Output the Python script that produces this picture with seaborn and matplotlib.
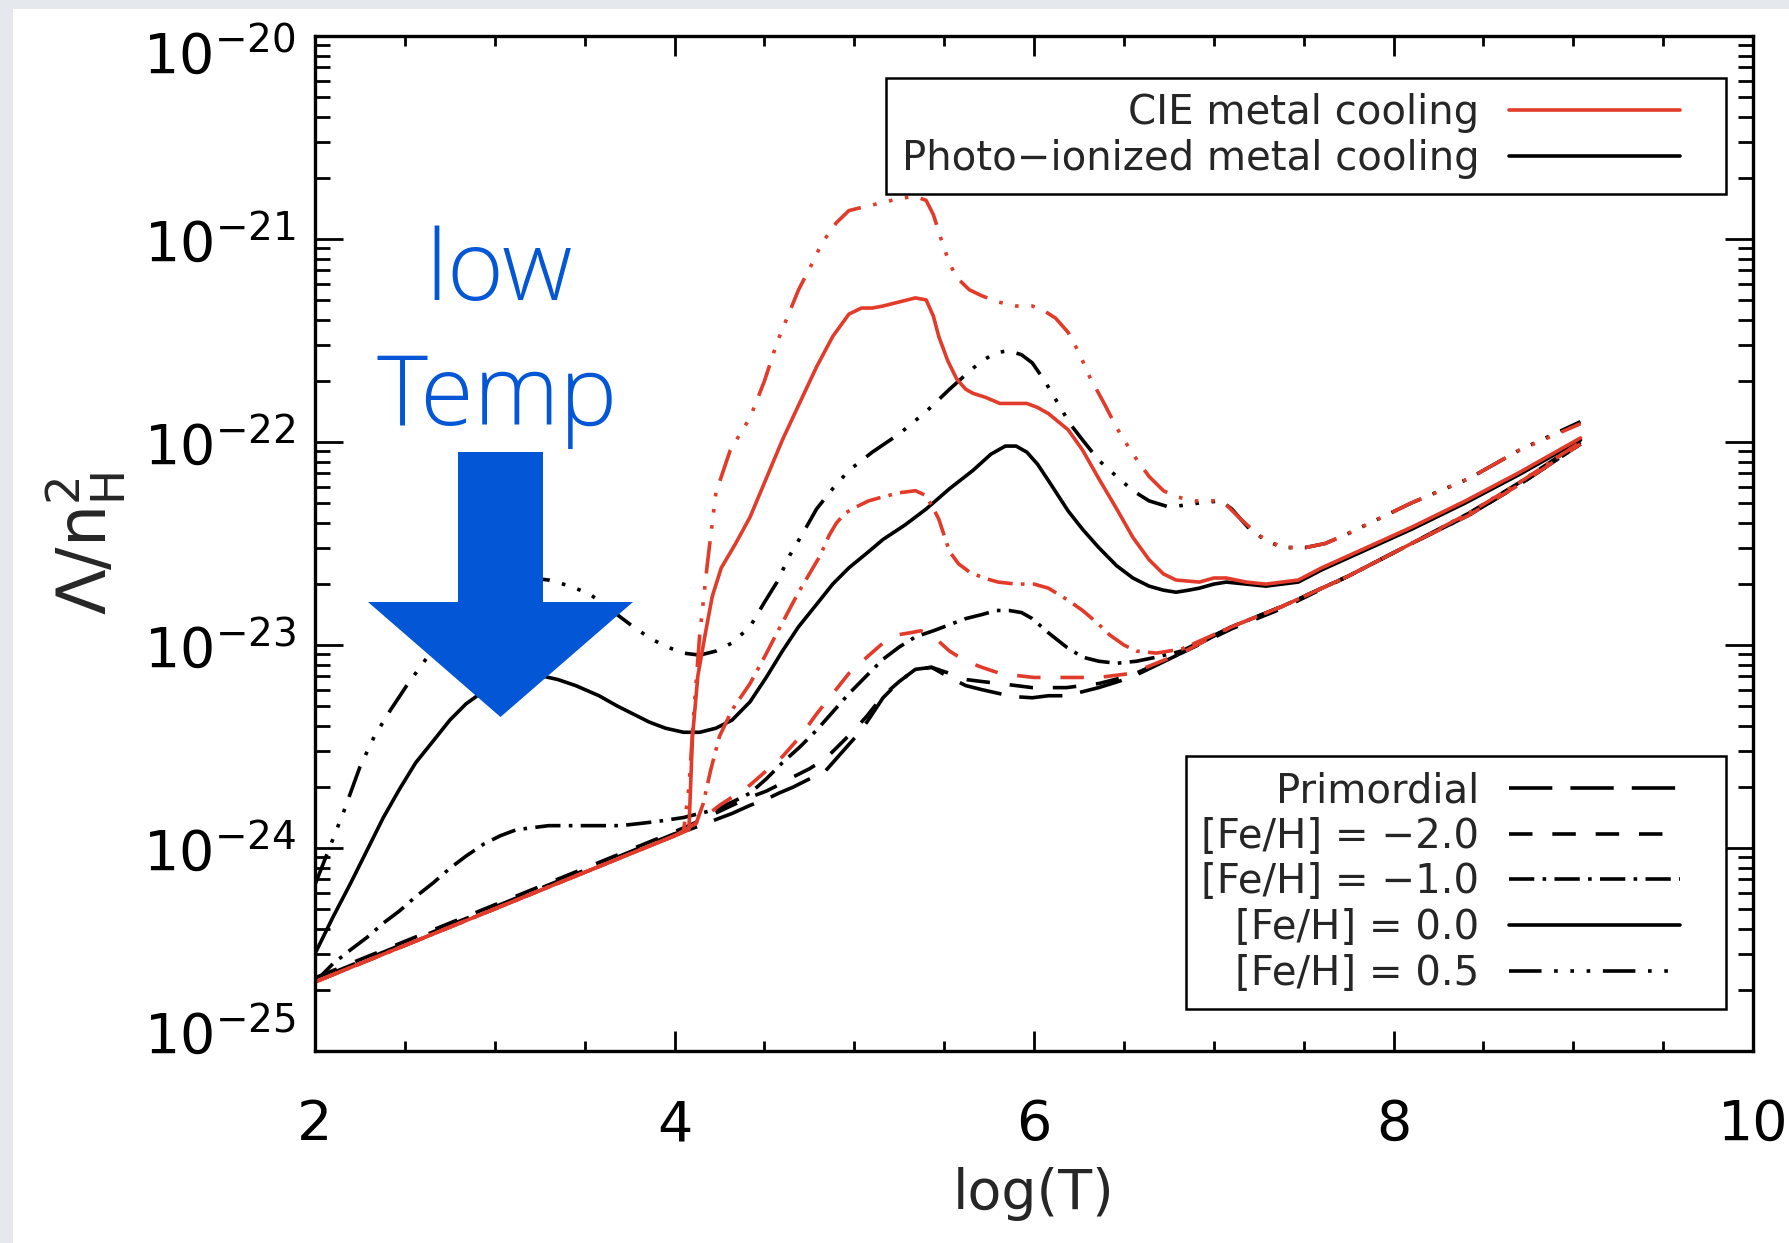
import numpy as np
import matplotlib
matplotlib.use("Agg")
import matplotlib.pyplot as plt
import seaborn as sns
from matplotlib.lines import Line2D
from matplotlib.legend_handler import HandlerLine2D
from matplotlib.patches import FancyArrow, Rectangle
from matplotlib.ticker import MultipleLocator, LogLocator, NullFormatter
from matplotlib.transforms import ScaledTranslation

RED = "#e23b2a"
BLUE = "#0356d6"
LW = 2.6

# (log T, log Lambda/nH^2)
cie_p05 = [(2.0, -24.66), (3.0, -24.30), (4.0, -23.94), (4.05, -23.92), (4.08, -23.70),
           (4.11, -23.30), (4.14, -22.95), (4.18, -22.62), (4.23, -22.25), (4.31, -22.04),
           (4.42, -21.88), (4.50, -21.70), (4.57, -21.51), (4.63, -21.38), (4.69, -21.25),
           (4.76, -21.13), (4.82, -21.02), (4.90, -20.92), (4.97, -20.86), (5.06, -20.84),
           (5.16, -20.82), (5.25, -20.80), (5.34, -20.79), (5.40, -20.81), (5.44, -20.88),
           (5.49, -21.02), (5.53, -21.12), (5.57, -21.19), (5.64, -21.25), (5.71, -21.28),
           (5.80, -21.31), (5.90, -21.33), (5.99, -21.33), (6.05, -21.35), (6.12, -21.39),
           (6.19, -21.46), (6.25, -21.56), (6.31, -21.68), (6.39, -21.81), (6.46, -21.93),
           (6.55, -22.06), (6.64, -22.17), (6.72, -22.24), (6.79, -22.27), (6.90, -22.29),
           (7.00, -22.29), (7.07, -22.31), (7.15, -22.38), (7.25, -22.46), (7.38, -22.52),
           (7.51, -22.52), (7.62, -22.50), (7.75, -22.45), (8.10, -22.30), (8.42, -22.18),
           (8.70, -22.04), (9.04, -21.91)]

cie_00 = [(2.0, -24.66), (3.0, -24.30), (4.0, -23.94), (4.08, -23.91), (4.10, -23.45),
          (4.13, -23.15), (4.17, -22.95), (4.21, -22.76), (4.26, -22.62), (4.34, -22.50),
          (4.42, -22.37), (4.51, -22.18), (4.60, -21.99), (4.70, -21.80), (4.79, -21.63),
          (4.88, -21.48), (4.97, -21.37), (5.04, -21.34), (5.10, -21.34), (5.16, -21.33),
          (5.25, -21.31), (5.34, -21.29), (5.40, -21.30), (5.44, -21.38), (5.47, -21.48),
          (5.52, -21.60), (5.57, -21.69), (5.62, -21.74), (5.66, -21.76), (5.73, -21.78),
          (5.81, -21.81), (5.90, -21.81), (5.96, -21.81), (6.02, -21.83), (6.08, -21.86),
          (6.19, -21.94), (6.27, -22.04), (6.36, -22.18), (6.46, -22.33), (6.55, -22.47),
          (6.64, -22.58), (6.72, -22.65), (6.79, -22.68), (6.92, -22.69), (7.00, -22.67),
          (7.07, -22.67), (7.18, -22.69), (7.29, -22.70), (7.47, -22.68), (7.60, -22.62),
          (7.75, -22.56), (8.10, -22.42), (8.40, -22.29), (8.70, -22.15), (9.04, -21.98)]

cie_m1 = [(2.0, -24.66), (3.0, -24.30), (4.0, -23.94), (4.06, -23.91), (4.12, -23.88),
          (4.16, -23.78), (4.20, -23.62), (4.25, -23.45), (4.32, -23.32), (4.42, -23.19),
          (4.50, -23.06), (4.57, -22.94), (4.63, -22.84), (4.69, -22.74), (4.75, -22.65),
          (4.81, -22.56), (4.86, -22.46), (4.90, -22.40), (4.95, -22.35), (5.01, -22.32),
          (5.08, -22.29), (5.16, -22.27), (5.25, -22.25), (5.34, -22.24), (5.39, -22.26),
          (5.43, -22.31), (5.47, -22.38), (5.50, -22.46), (5.53, -22.54), (5.58, -22.60),
          (5.64, -22.64), (5.72, -22.67), (5.80, -22.69), (5.90, -22.70), (6.00, -22.70),
          (6.08, -22.72), (6.19, -22.78), (6.27, -22.83), (6.35, -22.89), (6.42, -22.95),
          (6.50, -23.00), (6.57, -23.03), (6.68, -23.04), (6.82, -23.02), (7.10, -22.91),
          (7.38, -22.81), (7.75, -22.66), (8.10, -22.50), (8.42, -22.35), (8.70, -22.20),
          (9.04, -22.00)]

cie_m2 = [(2.0, -24.66), (3.0, -24.30), (4.0, -23.94), (4.06, -23.91), (4.15, -23.86),
          (4.25, -23.79), (4.32, -23.75), (4.42, -23.69), (4.51, -23.62), (4.60, -23.55),
          (4.70, -23.45), (4.79, -23.34), (4.88, -23.24), (4.97, -23.14), (5.07, -23.06),
          (5.16, -22.99), (5.24, -22.95), (5.31, -22.94), (5.37, -22.93), (5.43, -22.95),
          (5.48, -22.99), (5.53, -23.03), (5.62, -23.08), (5.71, -23.11), (5.81, -23.14),
          (5.90, -23.15), (6.00, -23.16), (6.08, -23.16), (6.20, -23.16), (6.36, -23.16),
          (6.54, -23.14), (6.82, -23.04), (7.10, -22.91), (7.38, -22.81), (7.75, -22.66),
          (8.10, -22.50), (8.42, -22.36), (8.70, -22.21), (9.04, -22.01)]

photo_p05 = [(2.0, -24.18), (2.08, -24.00), (2.16, -23.82), (2.25, -23.60), (2.33, -23.45),
             (2.42, -23.32), (2.51, -23.20), (2.60, -23.09), (2.70, -22.97), (2.80, -22.87),
             (2.90, -22.79), (3.00, -22.73), (3.10, -22.69), (3.20, -22.67), (3.30, -22.68),
             (3.42, -22.71), (3.53, -22.75), (3.65, -22.83), (3.77, -22.91), (3.87, -22.97),
             (3.96, -23.01), (4.05, -23.04), (4.14, -23.05), (4.23, -23.03), (4.32, -22.99),
             (4.42, -22.91), (4.50, -22.79), (4.57, -22.69), (4.64, -22.56), (4.72, -22.44),
             (4.79, -22.33), (4.88, -22.23), (4.97, -22.14), (5.10, -22.05), (5.25, -21.96),
             (5.40, -21.85), (5.53, -21.74), (5.63, -21.66), (5.71, -21.60), (5.79, -21.56),
             (5.86, -21.55), (5.93, -21.57), (5.99, -21.61), (6.06, -21.70), (6.12, -21.79),
             (6.20, -21.91), (6.27, -21.99), (6.36, -22.09), (6.46, -22.17), (6.55, -22.24),
             (6.64, -22.29), (6.75, -22.32), (6.85, -22.31), (6.92, -22.30), (7.04, -22.29),
             (7.10, -22.33), (7.19, -22.42), (7.28, -22.48), (7.38, -22.52), (7.51, -22.52),
             (7.62, -22.50), (7.75, -22.45), (8.10, -22.30), (8.42, -22.18), (8.70, -22.04),
             (9.04, -21.90)]

photo_00 = [(2.0, -24.52), (2.10, -24.34), (2.20, -24.17), (2.29, -24.01), (2.38, -23.85),
            (2.47, -23.71), (2.56, -23.58), (2.66, -23.47), (2.75, -23.37), (2.84, -23.29),
            (2.95, -23.22), (3.05, -23.18), (3.15, -23.15), (3.25, -23.15), (3.35, -23.17),
            (3.45, -23.20), (3.58, -23.25), (3.68, -23.30), (3.77, -23.34), (3.86, -23.38),
            (3.95, -23.41), (4.05, -23.43), (4.14, -23.43), (4.23, -23.41), (4.32, -23.37),
            (4.42, -23.28), (4.51, -23.16), (4.60, -23.03), (4.69, -22.91), (4.79, -22.80),
            (4.88, -22.70), (4.97, -22.62), (5.08, -22.54), (5.16, -22.48), (5.28, -22.41),
            (5.40, -22.33), (5.53, -22.23), (5.66, -22.14), (5.76, -22.06), (5.84, -22.02),
            (5.90, -22.02), (5.96, -22.05), (6.02, -22.11), (6.08, -22.19), (6.19, -22.34),
            (6.27, -22.43), (6.36, -22.52), (6.46, -22.61), (6.55, -22.67), (6.64, -22.71),
            (6.72, -22.73), (6.79, -22.74), (6.86, -22.73), (6.92, -22.72), (7.00, -22.70),
            (7.07, -22.69), (7.18, -22.70), (7.29, -22.71), (7.47, -22.69), (7.60, -22.63),
            (7.75, -22.57), (8.10, -22.43), (8.40, -22.30), (8.70, -22.16), (9.04, -21.99)]

photo_m1 = [(2.0, -24.66), (2.10, -24.57), (2.20, -24.50), (2.29, -24.44), (2.38, -24.37),
            (2.47, -24.31), (2.56, -24.24), (2.66, -24.17), (2.75, -24.10), (2.84, -24.04),
            (2.94, -23.98), (3.03, -23.94), (3.12, -23.91), (3.21, -23.90), (3.30, -23.89),
            (3.50, -23.89), (3.70, -23.89), (3.80, -23.88), (3.90, -23.87), (4.05, -23.85),
            (4.14, -23.83), (4.23, -23.81), (4.33, -23.77), (4.42, -23.73), (4.51, -23.66),
            (4.60, -23.58), (4.70, -23.50), (4.79, -23.42), (4.88, -23.33), (4.97, -23.24),
            (5.07, -23.15), (5.16, -23.07), (5.25, -23.01), (5.34, -22.96), (5.44, -22.93),
            (5.53, -22.90), (5.62, -22.87), (5.71, -22.85), (5.79, -22.83), (5.86, -22.83),
            (5.93, -22.84), (5.99, -22.87), (6.08, -22.94), (6.18, -23.01), (6.27, -23.06),
            (6.36, -23.08), (6.46, -23.09), (6.57, -23.08), (6.68, -23.06), (6.82, -23.03),
            (7.10, -22.91), (7.38, -22.81), (7.75, -22.66), (8.10, -22.50), (8.42, -22.35),
            (8.70, -22.20), (9.04, -22.00)]

photo_m2 = [(2.0, -24.64), (3.0, -24.28), (4.0, -23.92), (4.08, -23.89), (4.20, -23.84),
            (4.32, -23.79), (4.42, -23.75), (4.51, -23.72), (4.60, -23.68), (4.66, -23.65),
            (4.75, -23.61), (4.84, -23.56), (4.92, -23.49), (5.01, -23.41), (5.07, -23.35),
            (5.16, -23.25), (5.25, -23.18), (5.34, -23.12), (5.43, -23.11), (5.53, -23.14),
            (5.62, -23.17), (5.71, -23.18), (5.81, -23.19), (5.90, -23.20), (5.99, -23.21),
            (6.08, -23.21), (6.18, -23.21), (6.27, -23.20), (6.36, -23.19), (6.54, -23.15),
            (6.82, -23.04), (7.10, -22.92), (7.38, -22.82), (7.75, -22.66), (8.10, -22.50),
            (8.42, -22.36), (8.70, -22.21), (9.04, -22.01)]

primordial = [(2.0, -24.65), (3.0, -24.29), (4.0, -23.93), (4.08, -23.91), (4.20, -23.87),
              (4.32, -23.83), (4.42, -23.79), (4.51, -23.76), (4.58, -23.73), (4.66, -23.70),
              (4.75, -23.66), (4.84, -23.62), (4.92, -23.54), (5.01, -23.45), (5.07, -23.38),
              (5.16, -23.26), (5.25, -23.18), (5.34, -23.12), (5.43, -23.11), (5.53, -23.16),
              (5.62, -23.20), (5.71, -23.22), (5.81, -23.24), (5.90, -23.255), (5.99, -23.26),
              (6.08, -23.25), (6.18, -23.25), (6.27, -23.23), (6.36, -23.21), (6.54, -23.16),
              (6.82, -23.04), (7.10, -22.91), (7.38, -22.81), (7.75, -22.66), (8.10, -22.50),
              (8.42, -22.36), (8.70, -22.21), (9.04, -22.01)]

x_ticks = [2, 4, 6, 8, 10]
y_exps = [-25, -24, -23, -22, -21, -20]

metal_labels = ["CIE metal cooling", "Photo\u2212ionized metal cooling"]
style_labels = ["Primordial", "[Fe/H] = \u22122.0", "[Fe/H] = \u22121.0",
                "[Fe/H] = 0.0", "[Fe/H] = 0.5"]

STYLES = {
    "prim": (0, (12, 5)),
    "m2": (0, (6.5, 5.5)),
    "m1": (0, (7, 2.3, 1, 2.3)),
    "z0": "-",
    "p5": (0, (9, 3.5, 1, 3.5, 1, 3.5, 1, 3.5)),
}


class ShortLine(HandlerLine2D):
    # IDL-style legend: line does not fill the whole handle box
    def create_artists(self, legend, orig_handle, xdescent, ydescent,
                       width, height, fontsize, trans):
        return super().create_artists(legend, orig_handle, xdescent, ydescent,
                                      width * 0.85, height, fontsize, trans)


def draw_curve(ax, pts, color, style):
    arr = np.array(pts)
    sns.lineplot(x=arr[:, 0], y=10 ** arr[:, 1], ax=ax, color=color,
                 linestyle=style, linewidth=LW, estimator=None, sort=False)


def main():
    sns.set_theme(style="white")
    plt.rcParams["font.family"] = ["DejaVu Sans"]
    plt.rcParams["mathtext.fontset"] = "dejavusans"

    fig = plt.figure(figsize=(17.89, 12.43), dpi=100)
    fig.patch.set_facecolor("#e5e8ec")
    fig.add_artist(Rectangle((13 / 1789, 0), 1, 1 - 9 / 1243, transform=fig.transFigure,
                             facecolor="white", edgecolor="none", zorder=-10))

    ax = fig.add_axes([0.1761, 0.1545, 0.8038, 0.8165])
    ax.set_facecolor("white")
    ax.set_yscale("log")

    draw_curve(ax, primordial, "black", STYLES["prim"])
    draw_curve(ax, photo_m2, "black", STYLES["m2"])
    draw_curve(ax, photo_m1, "black", STYLES["m1"])
    draw_curve(ax, photo_00, "black", STYLES["z0"])
    draw_curve(ax, photo_p05, "black", STYLES["p5"])
    draw_curve(ax, cie_m2, RED, STYLES["m2"])
    draw_curve(ax, cie_m1, RED, STYLES["m1"])
    draw_curve(ax, cie_00, RED, STYLES["z0"])
    draw_curve(ax, cie_p05, RED, STYLES["p5"])

    ax.set_xlim(2, 10)
    ax.set_ylim(1e-25, 1e-20)

    ax.set_xticks(x_ticks)
    ax.set_xticklabels([str(v) for v in x_ticks])
    ax.xaxis.set_minor_locator(MultipleLocator(0.5))
    ax.set_yticks([10.0 ** e for e in y_exps])
    ax.set_yticklabels([rf"$10^{{{e}}}$" for e in y_exps])
    ax.yaxis.set_minor_locator(LogLocator(base=10, subs=np.arange(2, 10)))
    ax.yaxis.set_minor_formatter(NullFormatter())

    for side in ax.spines.values():
        side.set_linewidth(2.4)
        side.set_color("black")

    ax.tick_params(axis="both", which="both", direction="in", top=True, right=True,
                   bottom=True, left=True, color="black", labelcolor="black")
    ax.tick_params(axis="x", which="major", length=14.4, width=2, pad=34, labelsize=40)
    ax.tick_params(axis="x", which="minor", length=7.2, width=2)
    ax.tick_params(axis="y", which="major", length=20, width=2, pad=14, labelsize=40)
    ax.tick_params(axis="y", which="minor", length=10.8, width=2)

    ylabels = ax.get_yticklabels()
    ylabels[0].set_transform(ylabels[0].get_transform()
                             + ScaledTranslation(0, 0.2, fig.dpi_scale_trans))
    ylabels[-1].set_transform(ylabels[-1].get_transform()
                              + ScaledTranslation(0, -0.15, fig.dpi_scale_trans))

    ax.set_xlabel("log(T)", fontsize=40)
    ax.xaxis.set_label_coords(0.5, -0.114)
    ax.set_ylabel(r"$\Lambda/\mathrm{n}_\mathrm{H}^{2}$", fontsize=48)
    ax.yaxis.set_label_coords(-0.13, 0.5)

    leg_kw = dict(markerfirst=False, fontsize=29, handlelength=5.0, handletextpad=0.74,
                  borderpad=0.38, labelspacing=0.14, frameon=True, fancybox=False,
                  edgecolor="black", framealpha=1, borderaxespad=0,
                  handler_map={Line2D: ShortLine()})

    top_handles = [Line2D([], [], color=RED, lw=LW), Line2D([], [], color="black", lw=LW)]
    leg1 = ax.legend(top_handles, metal_labels, loc="upper right",
                     bbox_to_anchor=(0.981, 0.9586), **leg_kw)
    leg1.get_frame().set_linewidth(1.8)
    ax.add_artist(leg1)

    bottom_handles = [Line2D([], [], color="black", lw=LW, linestyle=STYLES[k])
                      for k in ["prim", "m2", "m1", "z0", "p5"]]
    leg2 = ax.legend(bottom_handles, style_labels, loc="lower right",
                     bbox_to_anchor=(0.981, 0.0414), **leg_kw)
    leg2.get_frame().set_linewidth(1.8)

    # annotation: big blue arrow and label
    fig.add_artist(FancyArrow(5.005, 7.91, 0, -2.65, width=0.85, head_width=2.65,
                              head_length=1.15, length_includes_head=True,
                              transform=fig.dpi_scale_trans, facecolor=BLUE,
                              edgecolor="none", zorder=6))
    note_font = dict(ha="center", va="baseline", fontsize=70, color=BLUE,
                     family=["Open Sans", "DejaVu Sans"], fontweight=300, zorder=7)
    fig.text(0.279, 943 / 1243, "low", **note_font)
    fig.text(0.278, 818 / 1243, "Temp", **note_font)

    fig.savefig("out.png", dpi=100, facecolor=fig.get_facecolor())
    plt.close(fig)


if __name__ == "__main__":
    main()
